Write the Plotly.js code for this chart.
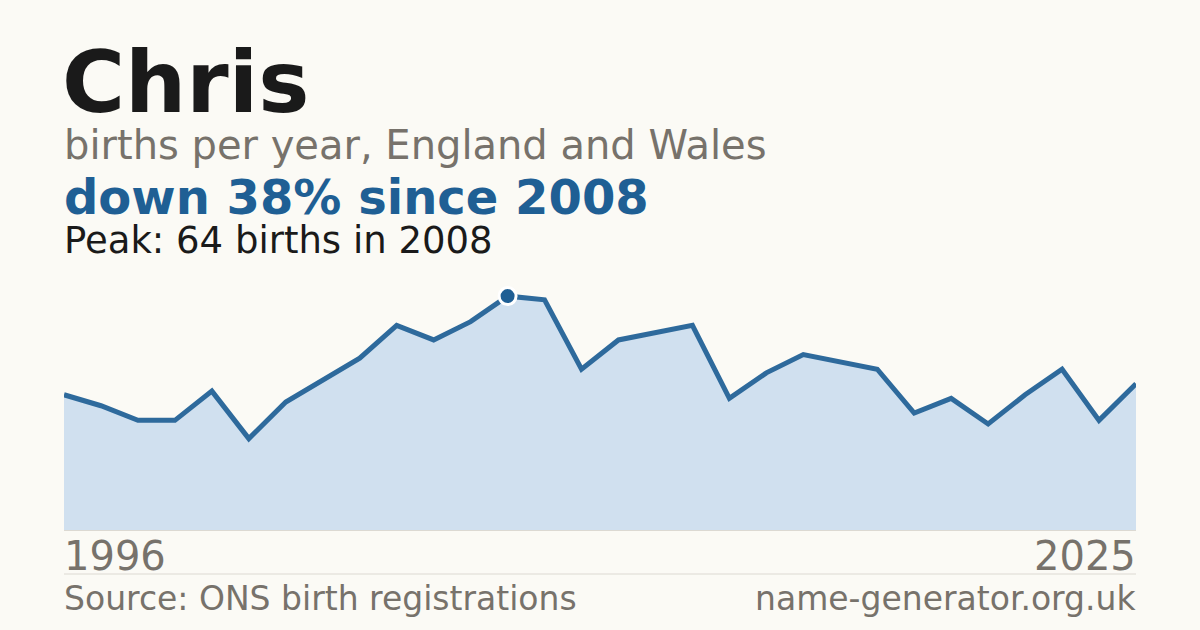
<!DOCTYPE html>
<html>
<head>
<meta charset="utf-8">
<script src="https://cdn.plot.ly/plotly-3.0.1.min.js"></script>
<style>
  html, body { margin: 0; padding: 0; background: #fbfaf5; }
  #chart { width: 1200px; height: 630px; }
</style>
</head>
<body>
<div id="chart"></div>
<script>
// births per year for "Chris", England and Wales
const years = [1996, 1997, 1998, 1999, 2000, 2001, 2002, 2003, 2004, 2005,
  2006, 2007, 2008, 2009, 2010, 2011, 2012, 2013, 2014, 2015,
  2016, 2017, 2018, 2019, 2020, 2021, 2022, 2023, 2024, 2025]
const births = [37, 34, 30, 30, 38, 25, 35, 41, 47, 56,
  52, 57, 64, 63, 44, 52, 54, 56, 36, 43,
  48, 46, 44, 32, 36, 29, 37, 44, 30, 40]

const name = "Chris"
const subtitle = "births per year, England and Wales"
const sourceText = "Source: ONS birth registrations"
const siteText = "name-generator.org.uk"

const peakIdx = births.indexOf(Math.max(...births))
const peakYear = years[peakIdx]
const last = births[births.length - 1]
const change = Math.round((1 - last / births[peakIdx]) * 100)

const grey = "#77726b"
const blue = "#1f5f94"
const font = "DejaVu Sans"

let area = {
  x: years,
  y: births,
  type: "scatter",
  mode: "lines",
  fill: "tozeroy",
  fillcolor: "#d0e0ef",
  line: { color: "#2e6a9c", width: 5 },
  hoverinfo: "skip",
}

let peak = {
  x: [peakYear],
  y: [births[peakIdx]],
  type: "scatter",
  mode: "markers",
  marker: { color: blue, size: 17, line: { color: "#ffffff", width: 3 } },
  hoverinfo: "skip",
}

function note(text, x, y, size, color, opts) {
  return Object.assign({
    text: text, x: x, y: y, xref: "paper", yref: "paper",
    xanchor: "left", yanchor: "middle", showarrow: false,
    borderpad: 0, borderwidth: 0,
    font: { family: font, size: size, color: color },
  }, opts || {})
}

let layout = {
  width: 1200,
  height: 630,
  margin: { l: 64, r: 64, t: 280, b: 100 },
  paper_bgcolor: "#fbfaf5",
  plot_bgcolor: "#fbfaf5",
  showlegend: false,
  xaxis: {
    range: [years[0], years[years.length - 1]],
    showgrid: false, zeroline: false, showticklabels: false,
    showline: true, linecolor: "#dcd9d2", linewidth: 1, fixedrange: true,
  },
  yaxis: {
    range: [0, 68.4],
    showgrid: false, zeroline: false, showticklabels: false, fixedrange: true,
  },
  annotations: [
    note("<b>" + name + "</b>", -0.002, 1.792, 86, "#1a1a1a"),
    note(subtitle, 0, 1.539, 40, grey),
    note("<b>down " + change + "% since " + peakYear + "</b>", 0, 1.334, 48, blue),
    note("Peak: " + births[peakIdx] + " births in " + peakYear, 0, 1.159, 37, "#1a1a1a"),
    note(String(years[0]), years[0], -0.102, 40, grey, { xref: "x" }),
    note(String(years[years.length - 1]), years[years.length - 1], -0.102, 40, grey,
      { xref: "x", xanchor: "right" }),
    note(sourceText, 0, -0.272, 33, grey),
    note(siteText, 1, -0.272, 33, grey, { xanchor: "right" }),
  ],
  shapes: [
    {
      type: "line", xref: "paper", yref: "paper",
      x0: 0, x1: 1, y0: -0.176, y1: -0.176,
      line: { color: "#dcd9d2", width: 1 },
    },
  ],
}

Plotly.newPlot("chart", [area, peak], layout, {
  displayModeBar: false,
  staticPlot: true,
})
</script>
</body>
</html>
